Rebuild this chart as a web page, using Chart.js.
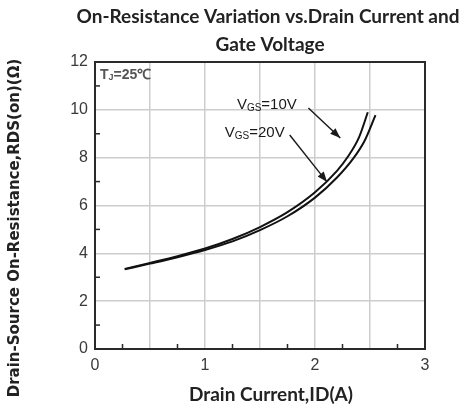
<!DOCTYPE html>
<html>
<head>
<meta charset="utf-8">
<script src="https://cdn.jsdelivr.net/npm/chart.js@4.4.1/dist/chart.umd.min.js"></script>
<style>
  html, body { margin: 0; padding: 0; background: #fff; }
  #wrap { width: 467px; height: 412px; }
</style>
</head>
<body>
<div id="wrap"><canvas id="rds" width="467" height="412"></canvas></div>
<script>
// curve VGS=10V
var current10 = [0.27, 0.5, 0.75, 1.0, 1.25, 1.5, 1.75, 2.0, 2.2, 2.3, 2.4, 2.48];
var rds10     = [3.35, 3.6, 3.88, 4.2, 4.6, 5.1, 5.72, 6.55, 7.45, 8.05, 8.85, 9.9];
// curve VGS=20V
var current20 = [0.27, 0.5, 0.75, 1.0, 1.25, 1.5, 1.75, 2.0, 2.2, 2.35, 2.45, 2.55];
var rds20     = [3.33, 3.57, 3.84, 4.14, 4.5, 4.97, 5.55, 6.33, 7.17, 7.98, 8.7, 9.78];

var xTickLabels = [0, 1, 2, 3];
var yTickLabels = [0, 2, 4, 6, 8, 10, 12];

function pts(xs, ys) {
  return xs.map(function (v, i) { return { x: v, y: ys[i] }; });
}

function line(ctx, x1, y1, x2, y2) {
  ctx.beginPath(); ctx.moveTo(x1, y1); ctx.lineTo(x2, y2); ctx.stroke();
}

function arrow(ctx, x1, y1, x2, y2) {
  line(ctx, x1, y1, x2, y2);
  var a = Math.atan2(y2 - y1, x2 - x1), L = 11, w = 0.36;
  ctx.beginPath();
  ctx.moveTo(x2, y2);
  ctx.lineTo(x2 - L * Math.cos(a - w), y2 - L * Math.sin(a - w));
  ctx.lineTo(x2 - L * Math.cos(a + w), y2 - L * Math.sin(a + w));
  ctx.closePath();
  ctx.fill();
}

var sans = '"Liberation Sans", Arial, sans-serif';

// V + subscript GS + rest
function vgs(ctx, x, y, rest) {
  ctx.textAlign = 'left';
  ctx.textBaseline = 'middle';
  ctx.font = '15px ' + sans;
  ctx.fillText('V', x, y);
  var w = ctx.measureText('V').width;
  ctx.font = '10px ' + sans;
  ctx.fillText('GS', x + w, y + 3);
  var w2 = ctx.measureText('GS').width;
  ctx.font = '15px ' + sans;
  ctx.fillText(rest, x + w + w2, y);
}

var overlay = {
  id: 'overlay',
  afterDraw: function (chart) {
    var ctx = chart.ctx, a = chart.chartArea;
    var x = chart.scales.x, y = chart.scales.y;
    ctx.save();

    // frame
    ctx.strokeStyle = '#2a2a2a';
    ctx.lineWidth = 2;
    ctx.strokeRect(a.left, a.top, a.right - a.left, a.bottom - a.top);

    // small inner ticks
    ctx.lineWidth = 1.5;
    for (var v = 0.25; v < 3; v += 0.5) {
      var px = x.getPixelForValue(v);
      line(ctx, px, a.bottom, px, a.bottom - 5);
    }
    for (var k = 1; k < 12; k += 2) {
      var py = y.getPixelForValue(k);
      line(ctx, a.left, py, a.left + 5, py);
    }

    // titles
    ctx.fillStyle = '#222';
    ctx.textAlign = 'center';
    ctx.textBaseline = 'middle';
    ctx.font = 'bold 19px Lato, sans-serif';
    ctx.fillText('On-Resistance Variation vs.Drain Current and', 268, 17);
    ctx.fillText('Gate Voltage', 270, 45);

    ctx.font = 'bold 19px Lato, sans-serif';
    ctx.fillText('Drain Current,ID(A)', 271, 395);

    ctx.save();
    ctx.translate(15, 228);
    ctx.rotate(-Math.PI / 2);
    ctx.font = 'bold 15px "DejaVu Sans", sans-serif';
    ctx.fillText('Drain-Source On-Resistance,RDS(on)(\u03A9)', 0, 0);
    ctx.restore();

    // Tj note
    ctx.fillStyle = '#555';
    ctx.textAlign = 'left';
    ctx.font = 'bold 14px ' + sans;
    ctx.fillText('T', a.left + 5, a.top + 13);
    var tw = ctx.measureText('T').width;
    ctx.font = 'bold 9px ' + sans;
    ctx.fillText('J', a.left + 5 + tw, a.top + 16);
    var jw = ctx.measureText('J').width;
    ctx.font = 'bold 14px ' + sans;
    ctx.fillText('=25\u2103', a.left + 5 + tw + jw, a.top + 13);

    // VGS labels with arrows
    ctx.fillStyle = '#1a1a1a';
    ctx.strokeStyle = '#1a1a1a';
    ctx.lineWidth = 1.4;
    vgs(ctx, x.getPixelForValue(1.29), y.getPixelForValue(10.2), '=10V');
    vgs(ctx, x.getPixelForValue(1.18), y.getPixelForValue(9.03), '=20V');
    arrow(ctx, x.getPixelForValue(1.94), y.getPixelForValue(10.08),
               x.getPixelForValue(2.23), y.getPixelForValue(8.82));
    arrow(ctx, x.getPixelForValue(1.77), y.getPixelForValue(8.95),
               x.getPixelForValue(2.11), y.getPixelForValue(6.98));

    ctx.restore();
  }
};

var ctx = document.getElementById('rds').getContext('2d');

var chart = new Chart(ctx, {
  type: 'line',
  data: {
    datasets: [{
      label: 'VGS=10V',
      data: pts(current10, rds10),
      borderColor: '#111',
      borderWidth: 2,
      pointRadius: 0,
      cubicInterpolationMode: 'monotone'
    }, {
      label: 'VGS=20V',
      data: pts(current20, rds20),
      borderColor: '#111',
      borderWidth: 2,
      pointRadius: 0,
      cubicInterpolationMode: 'monotone'
    }]
  },
  options: {
    responsive: false,
    animation: false,
    devicePixelRatio: 1,
    layout: { padding: { top: 62, right: 42, left: 0, bottom: 0 } },
    plugins: {
      legend: { display: false },
      tooltip: { enabled: false }
    },
    scales: {
      x: {
        type: 'linear',
        min: 0,
        max: 3,
        afterFit: function (s) { s.height = 63; },
        border: { display: false },
        grid: { color: '#cdcdcd', lineWidth: 1.5, drawTicks: false },
        ticks: {
          stepSize: 0.5,
          padding: 7,
          color: '#3a3a3a',
          font: { family: sans, size: 16 },
          callback: function (v) { return xTickLabels.indexOf(v) >= 0 ? String(v) : ''; }
        }
      },
      y: {
        min: 0,
        max: 12,
        afterFit: function (s) { s.width = 95; },
        border: { display: false },
        grid: { color: '#cdcdcd', lineWidth: 1.5, drawTicks: false },
        ticks: {
          stepSize: 2,
          padding: 7,
          color: '#3a3a3a',
          font: { family: sans, size: 16 },
          callback: function (v) { return yTickLabels.indexOf(v) >= 0 ? String(v) : ''; }
        }
      }
    }
  },
  plugins: [overlay]
});
</script>
</body>
</html>
